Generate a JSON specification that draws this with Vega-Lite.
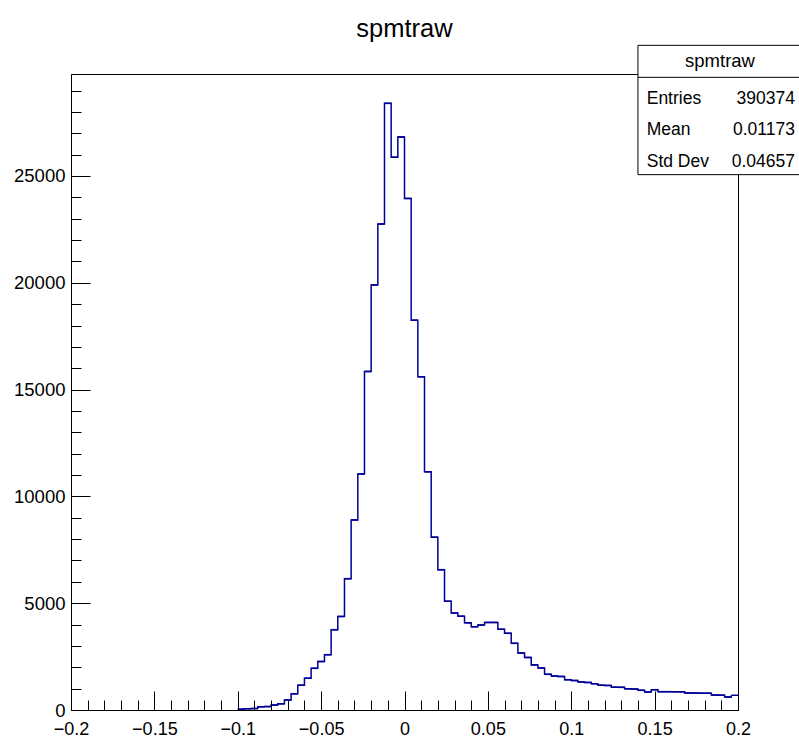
{
  "$schema": "https://vega.github.io/schema/vega-lite/v6.json",
  "width": 667,
  "height": 636,
  "autosize": {"type": "none"},
  "padding": {"left": 71, "top": 74, "right": 61, "bottom": 30},
  "background": "white",
  "config": {
    "view": {"stroke": "black", "strokeWidth": 1},
    "font": "Liberation Sans, sans-serif"
  },
  "title": {
    "text": "spmtraw",
    "font": "Liberation Sans, sans-serif",
    "fontSize": 25.5,
    "fontWeight": "normal",
    "color": "black",
    "anchor": "middle",
    "offset": 2
  },
  "datasets": {
    "hist": [
      {"bin_start": -0.2, "bin_end": -0.196, "count": 0},
      {"bin_start": -0.196, "bin_end": -0.192, "count": 0},
      {"bin_start": -0.192, "bin_end": -0.188, "count": 0},
      {"bin_start": -0.188, "bin_end": -0.184, "count": 0},
      {"bin_start": -0.184, "bin_end": -0.18, "count": 0},
      {"bin_start": -0.18, "bin_end": -0.176, "count": 0},
      {"bin_start": -0.176, "bin_end": -0.172, "count": 0},
      {"bin_start": -0.172, "bin_end": -0.168, "count": 0},
      {"bin_start": -0.168, "bin_end": -0.164, "count": 0},
      {"bin_start": -0.164, "bin_end": -0.16, "count": 0},
      {"bin_start": -0.16, "bin_end": -0.156, "count": 0},
      {"bin_start": -0.156, "bin_end": -0.152, "count": 0},
      {"bin_start": -0.152, "bin_end": -0.148, "count": 0},
      {"bin_start": -0.148, "bin_end": -0.144, "count": 0},
      {"bin_start": -0.144, "bin_end": -0.14, "count": 0},
      {"bin_start": -0.14, "bin_end": -0.136, "count": 0},
      {"bin_start": -0.136, "bin_end": -0.132, "count": 0},
      {"bin_start": -0.132, "bin_end": -0.128, "count": 0},
      {"bin_start": -0.128, "bin_end": -0.124, "count": 0},
      {"bin_start": -0.124, "bin_end": -0.12, "count": 0},
      {"bin_start": -0.12, "bin_end": -0.116, "count": 0},
      {"bin_start": -0.116, "bin_end": -0.112, "count": 0},
      {"bin_start": -0.112, "bin_end": -0.108, "count": 0},
      {"bin_start": -0.108, "bin_end": -0.104, "count": 0},
      {"bin_start": -0.104, "bin_end": -0.1, "count": 0},
      {"bin_start": -0.1, "bin_end": -0.096, "count": 40},
      {"bin_start": -0.096, "bin_end": -0.092, "count": 60},
      {"bin_start": -0.092, "bin_end": -0.088, "count": 70},
      {"bin_start": -0.088, "bin_end": -0.084, "count": 150},
      {"bin_start": -0.084, "bin_end": -0.08, "count": 160},
      {"bin_start": -0.08, "bin_end": -0.076, "count": 230},
      {"bin_start": -0.076, "bin_end": -0.072, "count": 290},
      {"bin_start": -0.072, "bin_end": -0.068, "count": 470},
      {"bin_start": -0.068, "bin_end": -0.064, "count": 760},
      {"bin_start": -0.064, "bin_end": -0.06, "count": 1160},
      {"bin_start": -0.06, "bin_end": -0.056, "count": 1490},
      {"bin_start": -0.056, "bin_end": -0.052, "count": 1950},
      {"bin_start": -0.052, "bin_end": -0.048, "count": 2270},
      {"bin_start": -0.048, "bin_end": -0.044, "count": 2590},
      {"bin_start": -0.044, "bin_end": -0.04, "count": 3760},
      {"bin_start": -0.04, "bin_end": -0.036, "count": 4380},
      {"bin_start": -0.036, "bin_end": -0.032, "count": 6150},
      {"bin_start": -0.032, "bin_end": -0.028, "count": 8900},
      {"bin_start": -0.028, "bin_end": -0.024, "count": 11050},
      {"bin_start": -0.024, "bin_end": -0.02, "count": 15850},
      {"bin_start": -0.02, "bin_end": -0.016, "count": 19900},
      {"bin_start": -0.016, "bin_end": -0.012, "count": 22750},
      {"bin_start": -0.012, "bin_end": -0.008, "count": 28400},
      {"bin_start": -0.008, "bin_end": -0.004, "count": 25880},
      {"bin_start": -0.004, "bin_end": 0, "count": 26830},
      {"bin_start": 0, "bin_end": 0.004, "count": 23950},
      {"bin_start": 0.004, "bin_end": 0.008, "count": 18250},
      {"bin_start": 0.008, "bin_end": 0.012, "count": 15600},
      {"bin_start": 0.012, "bin_end": 0.016, "count": 11150},
      {"bin_start": 0.016, "bin_end": 0.02, "count": 8090},
      {"bin_start": 0.02, "bin_end": 0.024, "count": 6570},
      {"bin_start": 0.024, "bin_end": 0.028, "count": 5090},
      {"bin_start": 0.028, "bin_end": 0.032, "count": 4540},
      {"bin_start": 0.032, "bin_end": 0.036, "count": 4390},
      {"bin_start": 0.036, "bin_end": 0.04, "count": 4080},
      {"bin_start": 0.04, "bin_end": 0.044, "count": 3900},
      {"bin_start": 0.044, "bin_end": 0.048, "count": 3980},
      {"bin_start": 0.048, "bin_end": 0.052, "count": 4100},
      {"bin_start": 0.052, "bin_end": 0.056, "count": 4100},
      {"bin_start": 0.056, "bin_end": 0.06, "count": 3780},
      {"bin_start": 0.06, "bin_end": 0.064, "count": 3590},
      {"bin_start": 0.064, "bin_end": 0.068, "count": 3120},
      {"bin_start": 0.068, "bin_end": 0.072, "count": 2670},
      {"bin_start": 0.072, "bin_end": 0.076, "count": 2460},
      {"bin_start": 0.076, "bin_end": 0.08, "count": 2110},
      {"bin_start": 0.08, "bin_end": 0.084, "count": 1970},
      {"bin_start": 0.084, "bin_end": 0.088, "count": 1670},
      {"bin_start": 0.088, "bin_end": 0.092, "count": 1590},
      {"bin_start": 0.092, "bin_end": 0.096, "count": 1570},
      {"bin_start": 0.096, "bin_end": 0.1, "count": 1420},
      {"bin_start": 0.1, "bin_end": 0.104, "count": 1380},
      {"bin_start": 0.104, "bin_end": 0.108, "count": 1310},
      {"bin_start": 0.108, "bin_end": 0.112, "count": 1290},
      {"bin_start": 0.112, "bin_end": 0.116, "count": 1230},
      {"bin_start": 0.116, "bin_end": 0.12, "count": 1160},
      {"bin_start": 0.12, "bin_end": 0.124, "count": 1150},
      {"bin_start": 0.124, "bin_end": 0.128, "count": 1070},
      {"bin_start": 0.128, "bin_end": 0.132, "count": 1060},
      {"bin_start": 0.132, "bin_end": 0.136, "count": 990},
      {"bin_start": 0.136, "bin_end": 0.14, "count": 980},
      {"bin_start": 0.14, "bin_end": 0.144, "count": 920},
      {"bin_start": 0.144, "bin_end": 0.148, "count": 840},
      {"bin_start": 0.148, "bin_end": 0.152, "count": 950},
      {"bin_start": 0.152, "bin_end": 0.156, "count": 860},
      {"bin_start": 0.156, "bin_end": 0.16, "count": 860},
      {"bin_start": 0.16, "bin_end": 0.164, "count": 855},
      {"bin_start": 0.164, "bin_end": 0.168, "count": 850},
      {"bin_start": 0.168, "bin_end": 0.172, "count": 800},
      {"bin_start": 0.172, "bin_end": 0.176, "count": 795},
      {"bin_start": 0.176, "bin_end": 0.18, "count": 790},
      {"bin_start": 0.18, "bin_end": 0.184, "count": 785},
      {"bin_start": 0.184, "bin_end": 0.188, "count": 700},
      {"bin_start": 0.188, "bin_end": 0.192, "count": 695},
      {"bin_start": 0.192, "bin_end": 0.196, "count": 610},
      {"bin_start": 0.196, "bin_end": 0.2, "count": 690}
    ]
  },
  "layer": [
    {
      "data": {"name": "hist"},
      "transform": [{"filter": "datum.count > 0"}],
      "mark": {"type": "line", "interpolate": "step-after", "color": "#000099", "strokeWidth": 1.5},
      "encoding": {
        "x": {
          "field": "bin_start",
          "type": "quantitative",
          "scale": {"domain": [-0.2, 0.2], "nice": false, "zero": false},
          "axis": {
            "values": [-0.2, -0.19, -0.18, -0.17, -0.16, -0.15, -0.14, -0.13, -0.12, -0.11, -0.1, -0.09, -0.08, -0.07, -0.06, -0.05, -0.04, -0.03, -0.02, -0.01, 0, 0.01, 0.02, 0.03, 0.04, 0.05, 0.06, 0.07, 0.08, 0.09, 0.1, 0.11, 0.12, 0.13, 0.14, 0.15, 0.16, 0.17, 0.18, 0.19, 0.2],
            "tickCount": 200,
            "format": "~g",
            "labelExpr": "abs(round(datum.value*100)) % 5 === 0 ? datum.label : ''",
            "tickSize": {"condition": {"test": "abs(round(datum.value*100)) % 5 === 0", "value": -19}, "value": -10},
            "tickColor": "black",
            "tickWidth": 1,
            "domainColor": "black",
            "domainWidth": 1,
            "labelColor": "black",
            "labelFontSize": 18,
            "labelPadding": 29,
            "labelFlush": false,
            "labelOverlap": false,
            "grid": false,
            "title": null,
            "zindex": 1
          }
        },
        "y": {
          "field": "count",
          "type": "quantitative",
          "scale": {"domain": [0, 29775], "nice": false},
          "axis": {
            "values": [0, 1000, 2000, 3000, 4000, 5000, 6000, 7000, 8000, 9000, 10000, 11000, 12000, 13000, 14000, 15000, 16000, 17000, 18000, 19000, 20000, 21000, 22000, 23000, 24000, 25000, 26000, 27000, 28000, 29000],
            "tickCount": 200,
            "format": "d",
            "labelExpr": "datum.value % 5000 === 0 ? datum.label : ''",
            "tickSize": {"condition": {"test": "datum.value % 5000 === 0", "value": -19}, "value": -10},
            "tickColor": "black",
            "tickWidth": 1,
            "domainColor": "black",
            "domainWidth": 1,
            "labelColor": "black",
            "labelFontSize": 18.5,
            "labelPadding": 25,
            "labelFlush": false,
            "labelOverlap": false,
            "grid": false,
            "title": null,
            "zindex": 1
          }
        }
      }
    },
    {
      "data": {"name": "hist"},
      "transform": [{"filter": "datum.count > 0"}],
      "mark": {"type": "rule", "color": "#000099", "strokeWidth": 1.5},
      "encoding": {
        "x": {"field": "bin_start", "type": "quantitative"},
        "x2": {"field": "bin_end"},
        "y": {"field": "count", "type": "quantitative"}
      }
    },
    {
      "data": {"values": [{}]},
      "mark": {"type": "rect", "fill": "white", "stroke": "black", "strokeWidth": 1},
      "encoding": {
        "x": {"datum": 0.14},
        "x2": {"datum": 0.24},
        "y": {"datum": 31117},
        "y2": {"datum": 25063}
      }
    },
    {
      "data": {"values": [{}]},
      "mark": {"type": "rule", "color": "black", "strokeWidth": 1},
      "encoding": {
        "x": {"datum": 0.14},
        "x2": {"datum": 0.24},
        "y": {"datum": 29619}
      }
    },
    {
      "data": {"values": [{}]},
      "mark": {"type": "text", "align": "center", "baseline": "alphabetic", "fontSize": 18.5, "color": "black"},
      "encoding": {
        "x": {"datum": 0.1892},
        "y": {"datum": 30105},
        "text": {"value": "spmtraw"}
      }
    },
    {
      "data": {"values": [{}]},
      "mark": {"type": "text", "align": "left", "baseline": "alphabetic", "fontSize": 17.5, "lineHeight": 31.7, "color": "black"},
      "encoding": {
        "x": {"datum": 0.14525},
        "y": {"datum": 28387},
        "text": {"value": ["Entries", "Mean", "Std Dev"]}
      }
    },
    {
      "data": {"values": [{}]},
      "mark": {"type": "text", "align": "right", "baseline": "alphabetic", "fontSize": 17.5, "lineHeight": 31.7, "color": "black"},
      "encoding": {
        "x": {"datum": 0.23418},
        "y": {"datum": 28387},
        "text": {"value": ["390374", "0.01173", "0.04657"]}
      }
    }
  ]
}
